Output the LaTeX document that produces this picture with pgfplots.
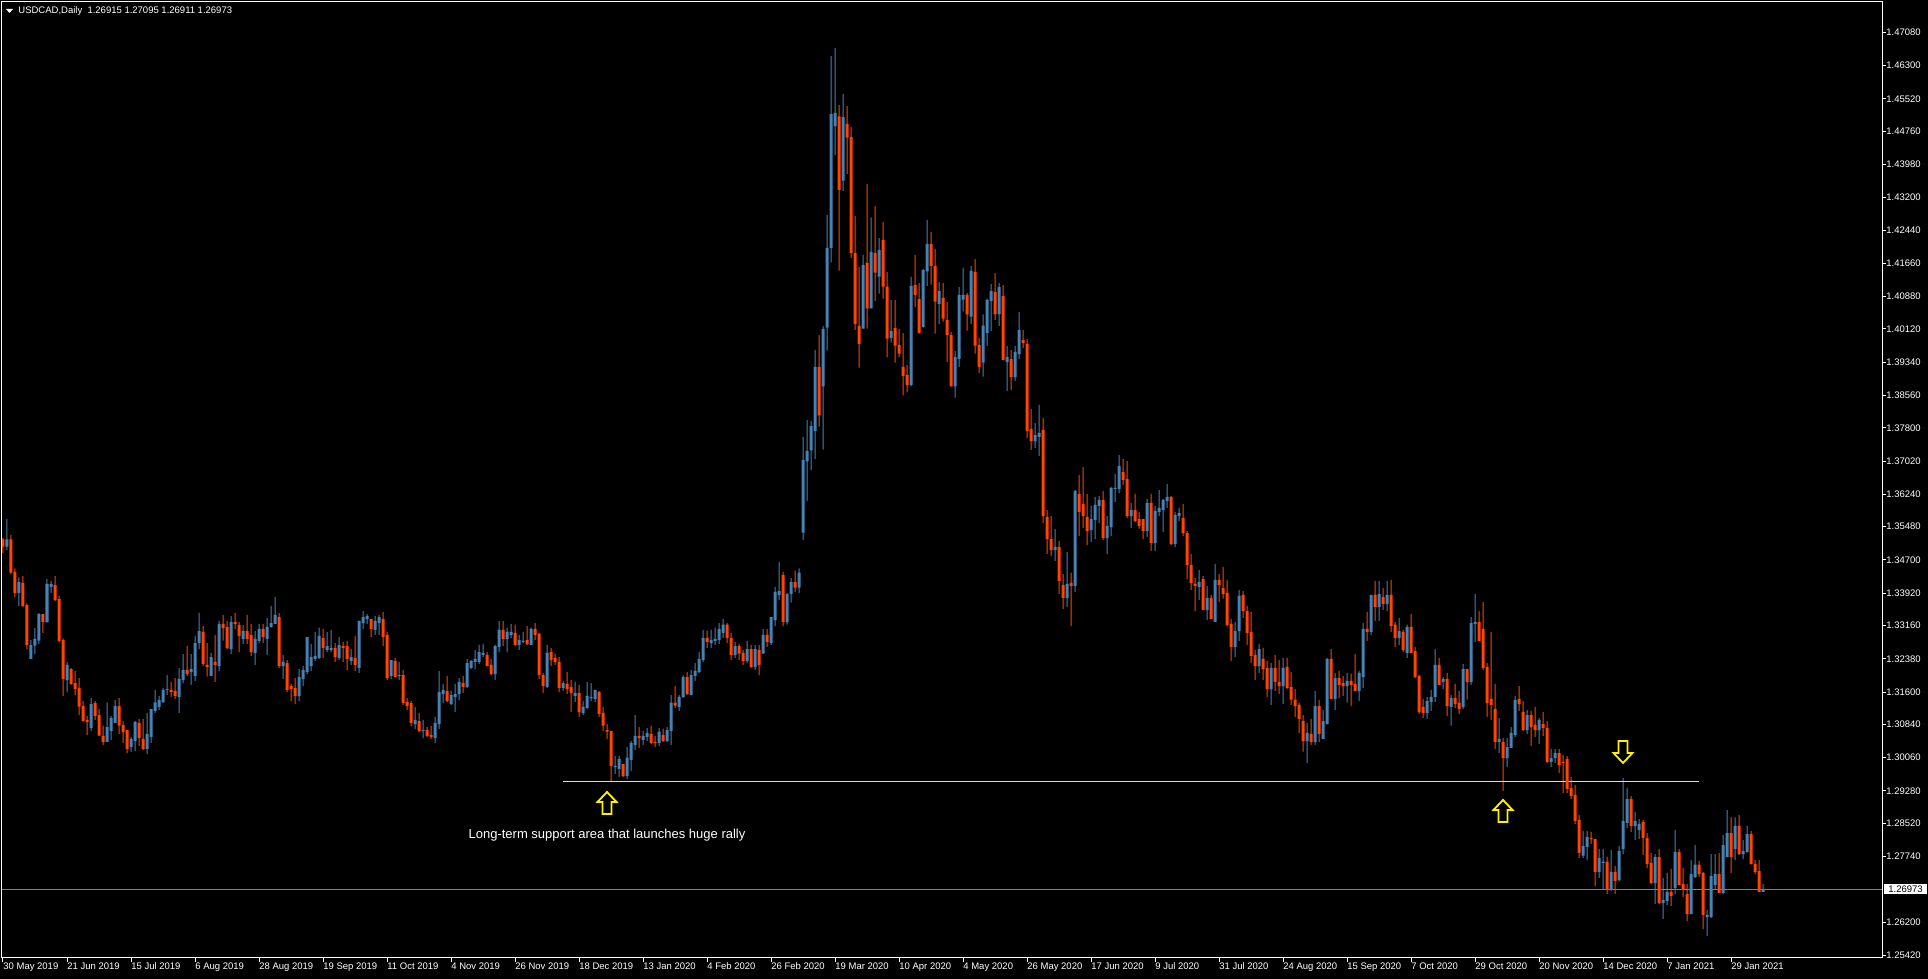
\documentclass[border=0pt]{standalone}
\usepackage{fontspec}
\setmainfont{Liberation Sans}
\usepackage{pgfplots}
\pgfplotsset{compat=1.18}
\usepackage{pgfplotstable}
\definecolor{bull}{RGB}{70,130,180}
\definecolor{bear}{RGB}{255,69,0}
\definecolor{bidline}{RGB}{128,128,128}
\newcommand{\mtfont}{\fontsize{4.75}{5.5}\selectfont}

% daily candles, bar index i, open high low close
\pgfplotstableread{
i o h l c
0 1.3518 1.3521 1.3486 1.3501
1 1.3501 1.3566 1.3493 1.3518
2 1.3518 1.3529 1.3436 1.3440
3 1.3442 1.3450 1.3382 1.3393
4 1.3393 1.3429 1.3362 1.3418
5 1.3416 1.3432 1.3360 1.3362
6 1.3364 1.3368 1.3261 1.3270
7 1.3238 1.3282 1.3238 1.3270
8 1.3269 1.3310 1.3249 1.3285
9 1.3281 1.3345 1.3273 1.3343
10 1.3343 1.3343 1.3299 1.3324
11 1.3324 1.3425 1.3323 1.3414
12 1.3407 1.3421 1.3393 1.3414
13 1.3411 1.3432 1.3374 1.3376
14 1.3378 1.3385 1.3277 1.3280
15 1.3282 1.3286 1.3151 1.3191
16 1.3188 1.3230 1.3160 1.3224
17 1.3214 1.3216 1.3177 1.3179
18 1.3181 1.3209 1.3152 1.3167
19 1.3170 1.3193 1.3106 1.3126
20 1.3127 1.3139 1.3091 1.3092
21 1.3095 1.3104 1.3059 1.3090
22 1.3076 1.3146 1.3069 1.3132
23 1.3134 1.3139 1.3095 1.3104
24 1.3106 1.3120 1.3057 1.3058
25 1.3057 1.3081 1.3036 1.3043
26 1.3043 1.3136 1.3043 1.3078
27 1.3069 1.3104 1.3048 1.3099
28 1.3088 1.3141 1.3088 1.3127
29 1.3127 1.3146 1.3062 1.3081
30 1.3083 1.3092 1.3041 1.3066
31 1.3071 1.3071 1.3017 1.3027
32 1.3031 1.3055 1.3019 1.3050
33 1.3045 1.3092 1.3022 1.3090
34 1.3088 1.3097 1.3034 1.3052
35 1.3050 1.3097 1.3024 1.3027
36 1.3027 1.3111 1.3015 1.3062
37 1.3055 1.3120 1.3041 1.3120
38 1.3116 1.3165 1.3111 1.3136
39 1.3125 1.3151 1.3118 1.3141
40 1.3136 1.3170 1.3136 1.3165
41 1.3165 1.3200 1.3153 1.3167
42 1.3165 1.3184 1.3149 1.3160
43 1.3163 1.3193 1.3144 1.3151
44 1.3148 1.3217 1.3111 1.3191
45 1.3188 1.3249 1.3181 1.3212
46 1.3212 1.3268 1.3198 1.3202
47 1.3207 1.3249 1.3177 1.3214
48 1.3198 1.3292 1.3186 1.3275
49 1.3275 1.3346 1.3261 1.3303
50 1.3301 1.3315 1.3221 1.3226
51 1.3224 1.3275 1.3196 1.3219
52 1.3198 1.3252 1.3198 1.3242
53 1.3231 1.3294 1.3184 1.3224
54 1.3221 1.3327 1.3209 1.3320
55 1.3320 1.3341 1.3281 1.3310
56 1.3313 1.3327 1.3261 1.3263
57 1.3261 1.3339 1.3249 1.3324
58 1.3324 1.3346 1.3308 1.3320
59 1.3317 1.3324 1.3254 1.3292
60 1.3285 1.3317 1.3273 1.3303
61 1.3303 1.3341 1.3273 1.3285
62 1.3294 1.3320 1.3245 1.3254
63 1.3252 1.3303 1.3224 1.3285
64 1.3280 1.3320 1.3275 1.3308
65 1.3308 1.3320 1.3275 1.3289
66 1.3285 1.3334 1.3247 1.3313
67 1.3313 1.3362 1.3311 1.3322
68 1.3320 1.3383 1.3320 1.3341
69 1.3336 1.3346 1.3217 1.3221
70 1.3221 1.3247 1.3191 1.3231
71 1.3228 1.3235 1.3160 1.3165
72 1.3174 1.3179 1.3139 1.3167
73 1.3170 1.3193 1.3132 1.3151
74 1.3151 1.3214 1.3139 1.3195
75 1.3191 1.3221 1.3174 1.3212
76 1.3207 1.3289 1.3202 1.3289
77 1.3221 1.3273 1.3209 1.3242
78 1.3238 1.3301 1.3233 1.3245
79 1.3240 1.3311 1.3238 1.3292
80 1.3287 1.3308 1.3240 1.3264
81 1.3259 1.3301 1.3254 1.3268
82 1.3259 1.3306 1.3254 1.3264
83 1.3264 1.3275 1.3231 1.3242
84 1.3240 1.3289 1.3235 1.3271
85 1.3268 1.3278 1.3231 1.3264
86 1.3268 1.3280 1.3212 1.3238
87 1.3233 1.3261 1.3224 1.3242
88 1.3240 1.3292 1.3209 1.3224
89 1.3217 1.3327 1.3205 1.3327
90 1.3322 1.3350 1.3308 1.3336
91 1.3331 1.3343 1.3320 1.3339
92 1.3331 1.3331 1.3289 1.3308
93 1.3306 1.3339 1.3294 1.3327
94 1.3322 1.3341 1.3294 1.3336
95 1.3331 1.3348 1.3268 1.3289
96 1.3294 1.3301 1.3188 1.3193
97 1.3198 1.3235 1.3191 1.3235
98 1.3233 1.3240 1.3195 1.3195
99 1.3198 1.3231 1.3188 1.3200
100 1.3200 1.3212 1.3130 1.3134
101 1.3137 1.3146 1.3118 1.3127
102 1.3134 1.3139 1.3080 1.3088
103 1.3085 1.3125 1.3073 1.3095
104 1.3092 1.3111 1.3066 1.3069
105 1.3069 1.3095 1.3052 1.3071
106 1.3071 1.3078 1.3055 1.3057
107 1.3059 1.3080 1.3050 1.3055
108 1.3052 1.3102 1.3041 1.3088
109 1.3085 1.3209 1.3073 1.3160
110 1.3155 1.3179 1.3134 1.3165
111 1.3163 1.3198 1.3137 1.3139
112 1.3132 1.3163 1.3130 1.3153
113 1.3148 1.3179 1.3113 1.3155
114 1.3155 1.3193 1.3141 1.3184
115 1.3181 1.3198 1.3158 1.3172
116 1.3172 1.3238 1.3170 1.3228
117 1.3217 1.3235 1.3214 1.3233
118 1.3231 1.3259 1.3214 1.3238
119 1.3231 1.3271 1.3226 1.3254
120 1.3247 1.3273 1.3242 1.3252
121 1.3247 1.3254 1.3221 1.3221
122 1.3224 1.3238 1.3200 1.3202
123 1.3202 1.3271 1.3188 1.3268
124 1.3266 1.3327 1.3254 1.3306
125 1.3306 1.3327 1.3268 1.3285
126 1.3285 1.3311 1.3254 1.3301
127 1.3294 1.3320 1.3287 1.3301
128 1.3299 1.3318 1.3268 1.3271
129 1.3271 1.3294 1.3259 1.3282
130 1.3278 1.3301 1.3275 1.3280
131 1.3282 1.3315 1.3271 1.3273
132 1.3271 1.3311 1.3271 1.3308
133 1.3308 1.3322 1.3282 1.3294
134 1.3297 1.3299 1.3191 1.3200
135 1.3200 1.3205 1.3158 1.3174
136 1.3172 1.3271 1.3170 1.3252
137 1.3254 1.3264 1.3221 1.3235
138 1.3240 1.3250 1.3224 1.3231
139 1.3231 1.3242 1.3160 1.3170
140 1.3170 1.3186 1.3163 1.3181
141 1.3179 1.3207 1.3156 1.3167
142 1.3172 1.3188 1.3113 1.3158
143 1.3151 1.3184 1.3137 1.3158
144 1.3158 1.3177 1.3102 1.3113
145 1.3111 1.3139 1.3106 1.3125
146 1.3123 1.3184 1.3120 1.3151
147 1.3146 1.3181 1.3139 1.3149
148 1.3144 1.3165 1.3137 1.3165
149 1.3160 1.3163 1.3102 1.3109
150 1.3111 1.3125 1.3069 1.3081
151 1.3071 1.3085 1.3050 1.3067
152 1.3069 1.3069 1.2951 1.2987
153 1.2984 1.3010 1.2968 1.2987
154 1.2980 1.3010 1.2961 1.3003
155 1.2991 1.2991 1.2961 1.2963
156 1.2963 1.3031 1.2956 1.3006
157 1.3001 1.3045 1.2975 1.3041
158 1.3036 1.3106 1.3024 1.3057
159 1.3057 1.3078 1.3029 1.3052
160 1.3048 1.3069 1.3036 1.3057
161 1.3055 1.3076 1.3045 1.3064
162 1.3062 1.3081 1.3038 1.3041
163 1.3043 1.3057 1.3031 1.3041
164 1.3041 1.3076 1.3034 1.3067
165 1.3059 1.3074 1.3043 1.3045
166 1.3045 1.3078 1.3043 1.3071
167 1.3069 1.3153 1.3036 1.3135
168 1.3135 1.3174 1.3123 1.3128
169 1.3125 1.3153 1.3116 1.3149
170 1.3149 1.3200 1.3146 1.3195
171 1.3195 1.3207 1.3153 1.3156
172 1.3153 1.3212 1.3153 1.3200
173 1.3198 1.3228 1.3186 1.3210
174 1.3207 1.3254 1.3205 1.3238
175 1.3235 1.3306 1.3231 1.3287
176 1.3287 1.3304 1.3264 1.3278
177 1.3275 1.3306 1.3264 1.3282
178 1.3280 1.3311 1.3271 1.3285
179 1.3282 1.3322 1.3273 1.3308
180 1.3299 1.3332 1.3287 1.3318
181 1.3318 1.3322 1.3275 1.3287
182 1.3287 1.3299 1.3235 1.3247
183 1.3247 1.3278 1.3240 1.3268
184 1.3268 1.3273 1.3235 1.3250
185 1.3252 1.3259 1.3224 1.3233
186 1.3233 1.3280 1.3228 1.3261
187 1.3261 1.3271 1.3217 1.3219
188 1.3219 1.3271 1.3212 1.3261
189 1.3259 1.3271 1.3200 1.3224
190 1.3250 1.3308 1.3250 1.3294
191 1.3294 1.3308 1.3266 1.3278
192 1.3275 1.3336 1.3271 1.3336
193 1.3329 1.3407 1.3315 1.3395
194 1.3388 1.3465 1.3376 1.3397
195 1.3435 1.3442 1.3315 1.3325
196 1.3325 1.3393 1.3318 1.3390
197 1.3390 1.3428 1.3370 1.3418
198 1.3418 1.3445 1.3395 1.3405
199 1.3405 1.3450 1.3392 1.3440
200 1.3534 1.3759 1.3517 1.3705
201 1.3701 1.3798 1.3608 1.3726
202 1.3727 1.3796 1.3681 1.3784
203 1.3773 1.3963 1.3707 1.3923
204 1.3923 1.3998 1.3783 1.3809
205 1.3877 1.4019 1.3729 1.4012
206 1.4015 1.4279 1.3961 1.4202
207 1.4202 1.4652 1.4168 1.4516
208 1.4488 1.4671 1.4420 1.4519
209 1.4511 1.4537 1.4149 1.4338
210 1.4360 1.4563 1.4336 1.4509
211 1.4493 1.4535 1.4376 1.4461
212 1.4462 1.4486 1.4179 1.4190
213 1.4190 1.4277 1.4010 1.4024
214 1.4019 1.4158 1.3921 1.3977
215 1.4013 1.4186 1.4013 1.4162
216 1.4167 1.4352 1.4013 1.4060
217 1.4060 1.4274 1.4060 1.4193
218 1.4190 1.4300 1.4078 1.4144
219 1.4135 1.4225 1.4095 1.4197
220 1.4221 1.4263 1.4083 1.4111
221 1.4111 1.4146 1.3945 1.3989
222 1.3991 1.4080 1.3980 1.4007
223 1.4014 1.4080 1.3933 1.3973
224 1.3974 1.4012 1.3945 1.3954
225 1.3923 1.4002 1.3856 1.3902
226 1.3904 1.3927 1.3863 1.3881
227 1.3881 1.4134 1.3877 1.4113
228 1.4115 1.4186 1.4064 1.4092
229 1.4082 1.4120 1.4001 1.4003
230 1.4017 1.4153 1.4015 1.4150
231 1.4147 1.4268 1.4113 1.4211
232 1.4211 1.4239 1.4116 1.4160
233 1.4160 1.4200 1.4001 1.4076
234 1.4071 1.4122 1.4024 1.4101
235 1.4085 1.4120 1.4029 1.4036
236 1.4033 1.4075 1.3935 1.3998
237 1.3998 1.4005 1.3877 1.3877
238 1.3877 1.3960 1.3851 1.3946
239 1.3942 1.4110 1.3923 1.4092
240 1.4081 1.4155 1.4053 1.4092
241 1.4092 1.4096 1.4008 1.4046
242 1.4041 1.4160 1.4024 1.4148
243 1.4146 1.4176 1.3954 1.3973
244 1.3974 1.3991 1.3909 1.3923
245 1.3933 1.4046 1.3900 1.4020
246 1.4002 1.4083 1.3972 1.4080
247 1.4078 1.4117 1.4007 1.4101
248 1.4099 1.4143 1.4033 1.4047
249 1.4047 1.4120 1.4019 1.4110
250 1.4089 1.4115 1.3939 1.3939
251 1.3934 1.3972 1.3866 1.3946
252 1.3941 1.3963 1.3869 1.3899
253 1.3899 1.3972 1.3890 1.3958
254 1.3953 1.4052 1.3941 1.4009
255 1.3986 1.4009 1.3967 1.3979
256 1.3977 1.3988 1.3756 1.3773
257 1.3777 1.3824 1.3728 1.3749
258 1.3749 1.3791 1.3733 1.3763
259 1.3759 1.3834 1.3714 1.3768
260 1.3775 1.3803 1.3557 1.3573
261 1.3571 1.3587 1.3484 1.3519
262 1.3519 1.3573 1.3479 1.3493
263 1.3493 1.3543 1.3468 1.3500
264 1.3500 1.3514 1.3390 1.3421
265 1.3411 1.3437 1.3355 1.3381
266 1.3381 1.3489 1.3360 1.3414
267 1.3416 1.3440 1.3315 1.3409
268 1.3409 1.3634 1.3395 1.3632
269 1.3625 1.3669 1.3526 1.3583
270 1.3601 1.3688 1.3545 1.3573
271 1.3571 1.3625 1.3505 1.3538
272 1.3540 1.3597 1.3512 1.3566
273 1.3564 1.3618 1.3519 1.3599
274 1.3597 1.3620 1.3557 1.3611
275 1.3611 1.3632 1.3517 1.3521
276 1.3521 1.3573 1.3484 1.3550
277 1.3547 1.3641 1.3526 1.3639
278 1.3637 1.3672 1.3606 1.3639
279 1.3637 1.3716 1.3627 1.3691
280 1.3676 1.3707 1.3646 1.3658
281 1.3660 1.3702 1.3568 1.3573
282 1.3573 1.3604 1.3545 1.3587
283 1.3587 1.3625 1.3559 1.3561
284 1.3566 1.3583 1.3543 1.3550
285 1.3566 1.3566 1.3519 1.3538
286 1.3538 1.3613 1.3524 1.3604
287 1.3604 1.3625 1.3491 1.3510
288 1.3510 1.3597 1.3491 1.3585
289 1.3583 1.3634 1.3573 1.3592
290 1.3587 1.3613 1.3536 1.3611
291 1.3608 1.3648 1.3592 1.3618
292 1.3618 1.3620 1.3505 1.3507
293 1.3507 1.3583 1.3500 1.3576
294 1.3573 1.3592 1.3561 1.3580
295 1.3568 1.3601 1.3526 1.3533
296 1.3533 1.3538 1.3425 1.3458
297 1.3458 1.3484 1.3400 1.3416
298 1.3414 1.3428 1.3350 1.3409
299 1.3407 1.3447 1.3376 1.3418
300 1.3425 1.3432 1.3353 1.3353
301 1.3353 1.3409 1.3329 1.3381
302 1.3381 1.3388 1.3332 1.3332
303 1.3325 1.3461 1.3325 1.3423
304 1.3423 1.3437 1.3371 1.3411
305 1.3404 1.3454 1.3379 1.3390
306 1.3393 1.3423 1.3315 1.3317
307 1.3320 1.3332 1.3233 1.3266
308 1.3266 1.3325 1.3242 1.3303
309 1.3303 1.3400 1.3280 1.3386
310 1.3388 1.3397 1.3334 1.3350
311 1.3350 1.3362 1.3271 1.3299
312 1.3301 1.3348 1.3228 1.3245
313 1.3247 1.3259 1.3188 1.3221
314 1.3221 1.3273 1.3205 1.3261
315 1.3238 1.3264 1.3188 1.3214
316 1.3217 1.3233 1.3149 1.3167
317 1.3167 1.3228 1.3130 1.3217
318 1.3217 1.3247 1.3163 1.3184
319 1.3184 1.3235 1.3156 1.3174
320 1.3174 1.3240 1.3132 1.3217
321 1.3219 1.3240 1.3167 1.3170
322 1.3172 1.3207 1.3130 1.3142
323 1.3142 1.3167 1.3102 1.3127
324 1.3130 1.3135 1.3064 1.3097
325 1.3092 1.3106 1.3020 1.3045
326 1.3045 1.3087 1.2994 1.3064
327 1.3062 1.3097 1.3036 1.3043
328 1.3043 1.3163 1.3036 1.3127
329 1.3127 1.3142 1.3043 1.3062
330 1.3050 1.3118 1.3050 1.3092
331 1.3085 1.3240 1.3085 1.3238
332 1.3238 1.3261 1.3144 1.3144
333 1.3144 1.3205 1.3118 1.3193
334 1.3193 1.3210 1.3146 1.3177
335 1.3181 1.3198 1.3151 1.3174
336 1.3174 1.3205 1.3135 1.3186
337 1.3186 1.3203 1.3127 1.3177
338 1.3179 1.3249 1.3163 1.3163
339 1.3163 1.3210 1.3139 1.3205
340 1.3195 1.3322 1.3170 1.3308
341 1.3308 1.3348 1.3280 1.3301
342 1.3301 1.3388 1.3294 1.3388
343 1.3388 1.3421 1.3327 1.3360
344 1.3360 1.3421 1.3327 1.3390
345 1.3383 1.3404 1.3353 1.3367
346 1.3367 1.3421 1.3350 1.3388
347 1.3388 1.3423 1.3301 1.3315
348 1.3318 1.3325 1.3266 1.3287
349 1.3287 1.3334 1.3271 1.3303
350 1.3301 1.3306 1.3254 1.3259
351 1.3252 1.3318 1.3240 1.3313
352 1.3313 1.3343 1.3252 1.3252
353 1.3256 1.3266 1.3193 1.3195
354 1.3198 1.3200 1.3109 1.3113
355 1.3125 1.3144 1.3099 1.3111
356 1.3111 1.3149 1.3097 1.3139
357 1.3137 1.3165 1.3116 1.3149
358 1.3149 1.3261 1.3137 1.3224
359 1.3224 1.3240 1.3177 1.3177
360 1.3184 1.3195 1.3167 1.3191
361 1.3191 1.3205 1.3104 1.3127
362 1.3125 1.3153 1.3081 1.3146
363 1.3146 1.3179 1.3123 1.3132
364 1.3135 1.3163 1.3109 1.3120
365 1.3125 1.3226 1.3120 1.3214
366 1.3214 1.3214 1.3142 1.3184
367 1.3184 1.3336 1.3177 1.3322
368 1.3320 1.3390 1.3278 1.3325
369 1.3325 1.3350 1.3280 1.3280
370 1.3308 1.3371 1.3212 1.3217
371 1.3219 1.3228 1.3102 1.3134
372 1.3144 1.3301 1.3095 1.3130
373 1.3120 1.3179 1.3027 1.3043
374 1.3043 1.3099 1.3017 1.3050
375 1.3043 1.3052 1.2928 1.3005
376 1.3005 1.3052 1.2984 1.3031
377 1.3029 1.3078 1.3029 1.3064
378 1.3059 1.3151 1.3055 1.3141
379 1.3144 1.3174 1.3116 1.3132
380 1.3113 1.3139 1.3069 1.3071
381 1.3071 1.3118 1.3062 1.3106
382 1.3106 1.3116 1.3034 1.3078
383 1.3083 1.3125 1.3055 1.3071
384 1.3071 1.3099 1.3038 1.3095
385 1.3085 1.3113 1.3057 1.3076
386 1.3076 1.3092 1.2994 1.2996
387 1.2996 1.3027 1.2984 1.3005
388 1.3005 1.3027 1.2994 1.3017
389 1.3017 1.3027 1.2970 1.2989
390 1.2996 1.3012 1.2923 1.2994
391 1.3003 1.3010 1.2923 1.2933
392 1.2935 1.2961 1.2909 1.2916
393 1.2919 1.2942 1.2851 1.2858
394 1.2860 1.2872 1.2771 1.2783
395 1.2776 1.2834 1.2771 1.2799
396 1.2797 1.2834 1.2766 1.2820
397 1.2818 1.2832 1.2804 1.2815
398 1.2815 1.2815 1.2705 1.2738
399 1.2738 1.2792 1.2724 1.2771
400 1.2759 1.2792 1.2696 1.2762
401 1.2762 1.2774 1.2686 1.2696
402 1.2696 1.2790 1.2693 1.2738
403 1.2738 1.2752 1.2686 1.2717
404 1.2719 1.2799 1.2715 1.2787
405 1.2792 1.2958 1.2780 1.2858
406 1.2853 1.2935 1.2841 1.2909
407 1.2909 1.2916 1.2832 1.2846
408 1.2846 1.2879 1.2813 1.2858
409 1.2836 1.2862 1.2815 1.2851
410 1.2855 1.2860 1.2778 1.2818
411 1.2818 1.2829 1.2747 1.2757
412 1.2759 1.2783 1.2710 1.2712
413 1.2712 1.2780 1.2663 1.2773
414 1.2773 1.2792 1.2663 1.2665
415 1.2665 1.2724 1.2628 1.2672
416 1.2670 1.2736 1.2661 1.2691
417 1.2691 1.2745 1.2658 1.2682
418 1.2700 1.2836 1.2686 1.2785
419 1.2785 1.2792 1.2707 1.2707
420 1.2710 1.2747 1.2679 1.2696
421 1.2686 1.2710 1.2623 1.2639
422 1.2639 1.2766 1.2639 1.2733
423 1.2726 1.2801 1.2724 1.2755
424 1.2755 1.2764 1.2726 1.2733
425 1.2736 1.2738 1.2604 1.2637
426 1.2632 1.2649 1.2588 1.2637
427 1.2632 1.2780 1.2630 1.2729
428 1.2707 1.2780 1.2696 1.2733
429 1.2733 1.2783 1.2689 1.2689
430 1.2689 1.2825 1.2686 1.2801
431 1.2773 1.2883 1.2773 1.2829
432 1.2829 1.2866 1.2735 1.2773
433 1.2792 1.2866 1.2766 1.2846
434 1.2846 1.2872 1.2778 1.2780
435 1.2780 1.2813 1.2768 1.2787
436 1.2785 1.2846 1.2783 1.2827
437 1.2827 1.2834 1.2755 1.2757
438 1.2757 1.2766 1.2733 1.2738
439 1.2740 1.2766 1.2691 1.2691
440 1.26915 1.27095 1.26911 1.26973
}\candles

\pgfplotsset{
  mtaxis/.style={
    at={(1pt,10.5pt)}, anchor=south west,
    scale only axis, width=940pt, height=478pt,
    xmin=-0.25, xmax=469.75, ymin=1.25361, ymax=1.47791,
    enlargelimits=false, ybar stacked,
  },
}

\begin{document}
\begin{tikzpicture}
\fill[black] (0,0) rectangle (964pt,489.5pt);
% axis with frame, ticks and wicks
\begin{axis}[mtaxis, bar width=0.5pt,
  axis background/.style={fill=black},
  axis line style={white, line width=0.5pt},
  tick align=outside, major tick length=2pt,
  tick style={white, line width=0.5pt},
  xtick pos=left, ytick pos=right, yticklabel pos=right,
  xtick={0,16,...,432},
  xticklabels={30 May 2019,21 Jun 2019,15 Jul 2019,6 Aug 2019,28 Aug 2019,19 Sep 2019,11 Oct 2019,4 Nov 2019,26 Nov 2019,18 Dec 2019,13 Jan 2020,4 Feb 2020,26 Feb 2020,19 Mar 2020,10 Apr 2020,4 May 2020,26 May 2020,17 Jun 2020,9 Jul 2020,31 Jul 2020,24 Aug 2020,15 Sep 2020,7 Oct 2020,29 Oct 2020,20 Nov 2020,14 Dec 2020,7 Jan 2021,29 Jan 2021},
  xticklabel style={text=white, font=\mtfont, anchor=north west, inner sep=0pt},
  ytick={1.4708,1.4630,1.4552,1.4476,1.4398,1.4320,1.4244,1.4166,1.4088,1.4012,1.3934,1.3856,1.3780,1.3702,1.3624,1.3548,1.3470,1.3392,1.3316,1.3238,1.3160,1.3084,1.3006,1.2928,1.2852,1.2774,1.2620,1.2542},
  yticklabels={1.47080,1.46300,1.45520,1.44760,1.43980,1.43200,1.42440,1.41660,1.40880,1.40120,1.39340,1.38560,1.37800,1.37020,1.36240,1.35480,1.34700,1.33920,1.33160,1.32380,1.31600,1.30840,1.30060,1.29280,1.28520,1.27740,1.26200,1.25420},
  yticklabel style={text=white, font=\mtfont, anchor=west, inner sep=0pt},
]
\addplot[draw=none, fill=none] table[x=i, y=l] {\candles};
\addplot[draw=none, fill=bull] table[x=i, y expr={ifthenelse(\thisrow{c}<\thisrow{o},0,\thisrow{h}-\thisrow{l})}] {\candles};
\addplot[draw=none, fill=bear] table[x=i, y expr={ifthenelse(\thisrow{c}<\thisrow{o},\thisrow{h}-\thisrow{l},0)}] {\candles};
\end{axis}
% axis with candle bodies and chart objects
\begin{axis}[mtaxis, bar width=1.5pt, hide axis]
\addplot[draw=none, fill=none] table[x=i, y expr={min(\thisrow{o},\thisrow{c})}] {\candles};
\addplot[draw=none, fill=bull] table[x=i, y expr={ifthenelse(\thisrow{c}<\thisrow{o},0,\thisrow{c}-\thisrow{o})}] {\candles};
\addplot[draw=none, fill=bear] table[x=i, y expr={ifthenelse(\thisrow{c}<\thisrow{o},\thisrow{o}-\thisrow{c},0)}] {\candles};
\draw[bidline, line width=0.5pt] (axis cs:-0.25,1.26973) -- (axis cs:469.75,1.26973);
\draw[yellow, line width=0.5pt] (axis cs:140,1.29507) -- (axis cs:424,1.29507);
\coordinate (a1) at (axis cs:151,1.29256);
\coordinate (a2) at (axis cs:375,1.29069);
\coordinate (a3) at (axis cs:405,1.29937);
\coordinate (txt) at (axis cs:151,1.28247);
\coordinate (bid) at (axis cs:469.75,1.26973);
\end{axis}
% hand-drawn chart objects: arrows and text
\foreach \p in {a1,a2}{
  \draw[yellow, line width=0.9pt, fill=black] (\p)
    -- ++(4.75pt,-5pt) -- ++(-2.5pt,0pt) -- ++(0pt,-6pt) -- ++(-4.5pt,0pt) -- ++(0pt,6pt) -- ++(-2.5pt,0pt) -- cycle;
}
\draw[yellow, line width=0.9pt, fill=black] (a3)
  -- ++(4.75pt,5pt) -- ++(-2.5pt,0pt) -- ++(0pt,6pt) -- ++(-4.5pt,0pt) -- ++(0pt,-6pt) -- ++(-2.5pt,0pt) -- cycle;
\node[text=white, font=\fontsize{6.5}{7.5}\selectfont] at (txt) {Long-term support area that launches huge rally};
\node[fill=white, text=black, anchor=west, inner xsep=2pt, inner ysep=0.75pt, font=\mtfont] at ([xshift=1pt]bid) {1.26973};
\fill[white] (3pt,485pt) -- (6.5pt,485pt) -- (4.75pt,483pt) -- cycle;
\node[anchor=west, inner sep=0pt, text=white, font=\mtfont] at (9pt,484pt) {USDCAD,Daily\ \ 1.26915 1.27095 1.26911 1.26973};
\pgfresetboundingbox
\path[use as bounding box] (0,0) rectangle (964pt,489.5pt);
\end{tikzpicture}
\end{document}
